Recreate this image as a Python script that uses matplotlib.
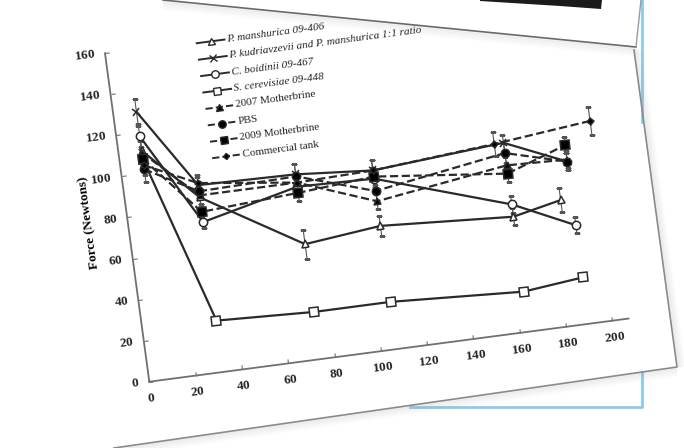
import numpy as np
import matplotlib
matplotlib.use("Agg")
import matplotlib.pyplot as plt
from matplotlib.transforms import Affine2D
from matplotlib.lines import Line2D
from matplotlib.patches import Polygon
from matplotlib.markers import MarkerStyle
import mpl_toolkits.axisartist.floating_axes as floating_axes
from mpl_toolkits.axisartist.grid_finder import FixedLocator

# sampling days
days = [10, 32, 74, 107, 164, 190]
days_mansh = [10, 32, 74, 107, 164, 185]
days_tank = [10, 32, 74, 107, 160, 202]

# force (Newtons) and error bars
mansh = [111, 85, 56, 60, 56, 61]
mansh_err = [6, 4, 7, 5, 4, 6]
kudr = [130, 91, 90, 87, 92, 79]
kudr_err = [6, 4, 5, 5, 4, 4]
boid = [118, 73, 84, 83, 62, 48]
boid_err = [5, 3, 4, 4, 4, 4]
cerev = [107, 25, 23, 23, 19.5, 22.6]
cerev_err = [5, 1, 1, 1, 1, 1]
mb2007 = [110, 86, 86, 72, 81, 80]
mb2007_err = [6, 4, 4, 4, 4, 4]
pbs = [102, 88, 89, 77, 87, 79]
pbs_err = [6, 4, 6, 5, 5, 4]
mb2009 = [107, 78, 81, 84, 77, 87]
mb2009_err = [5, 4, 4, 4, 4, 4]
tank = [104, 92, 86, 87, 92, 97]
tank_err = [5, 4, 4, 5, 6, 7]

labels = ["P. manshurica 09-406",
          "P. kudriavzevii and P. manshurica 1:1 ratio",
          "C. boidinii 09-467",
          "S. cerevisiae 09-448",
          "2007 Motherbrine", "PBS", "2009 Motherbrine", "Commercial tank"]

W, H = 684, 448
fig = plt.figure(figsize=(6.84, 4.48), dpi=100)
fig.patch.set_facecolor("white")

# the chart is a tilted photo: data units -> pixels (rotated ~7.5 deg)
ang = 7.5
tr = Affine2D(np.array([[2.315, -0.277, 0], [0.305, 2.053, 0], [0, 0, 1]]))
ox, oy = 149.3, H - 381.7
xmax, ymax = 207, 160

gh = floating_axes.GridHelperCurveLinear(
    tr, extremes=(0, xmax, 0, ymax),
    grid_locator1=FixedLocator(list(range(0, 201, 20))),
    grid_locator2=FixedLocator(list(range(0, 161, 20))))
ax = fig.add_axes([0.1, 0.1, 0.8, 0.8], axes_class=floating_axes.FloatingAxes,
                  grid_helper=gh)
xl, yl = ax.get_xlim(), ax.get_ylim()
ax.set_position([(ox + xl[0]) / W, (oy + yl[0]) / H,
                 (xl[1] - xl[0]) / W, (yl[1] - yl[0]) / H])
ax.patch.set_visible(False)

for side in ["top", "right"]:
    ax.axis[side].set_visible(False)
for side in ["bottom", "left"]:
    a = ax.axis[side]
    a.line.set_color("#707070")
    a.line.set_linewidth(1.3)
    a.major_ticks.set_color("#707070")
    a.major_ticks.set_ticksize(3)
    a.major_ticklabels.set_fontsize(9.5)
    a.major_ticklabels.set_fontweight("bold")
    a.major_ticklabels.set_fontfamily("Liberation Serif")
    a.major_ticklabels.set_color("#222222")
    a.major_ticklabels.set_pad(7)
lab = ax.axis["left"].label
lab.set_text("Force (Newtons)")
lab.set_fontsize(9.5)
lab.set_fontweight("bold")
lab.set_fontfamily("Liberation Serif")
lab.set_pad(1)
lab.set_visible(True)

aux = ax.get_aux_axes(tr)
aux.patch = ax.patch


def mk(m):
    return MarkerStyle(m, transform=Affine2D().rotate_deg(ang))


series = [
    (days_mansh, mansh, mansh_err, "-", "^", "white", 5.5),
    (days, kudr, kudr_err, "-", "x", "white", 5),
    (days, boid, boid_err, "-", "o", "white", 6),
    (days, cerev, cerev_err, "-", "s", "white", 6),
    (days, mb2007, mb2007_err, "--", "^", "black", 5),
    (days, pbs, pbs_err, "--", "o", "black", 6),
    (days, mb2009, mb2009_err, "--", "s", "black", 6),
    (days_tank, tank, tank_err, "--", "D", "black", 3.5),
]

for xs, ys, es, ls, m, fc, ms in series:
    aux.errorbar(xs, ys, yerr=es, ls="none", ecolor="#555555",
                 elinewidth=0.8, capsize=2.5, capthick=0.8, zorder=2)
    aux.plot(xs, ys, ls=ls, color="#2a2a2a", lw=1.6, marker=mk(m),
             ms=ms, mfc=fc, mec="#2a2a2a", mew=1.1, zorder=3)

# legend drawn in the tilted frame
lx, ly, step = 39.5, 159, 8
for i, ((xs, ys, es, ls, m, fc, ms), name) in enumerate(zip(series, labels)):
    yy = ly - step * i
    aux.plot([lx, lx + 12], [yy, yy], ls=ls, color="#2a2a2a",
             lw=1.4, clip_on=False)
    aux.plot([lx + 6], [yy], ls="none", marker=mk(m), ms=ms * 0.9,
             mfc=fc, mec="#2a2a2a", mew=1.0, clip_on=False)
    aux.text(lx + 13, yy, name, rotation=ang, rotation_mode="anchor",
             ha="left", va="center", fontsize=8,
             family="Liberation Serif",
             style="italic" if i < 4 else "normal", color="#222222")


def px(pts):
    pts = np.asarray(pts, float)
    return pts[:, 0] / W, 1 - pts[:, 1] / H


def edge(pts, **kw):
    x, y = px(pts)
    fig.add_artist(Line2D(x, y, transform=fig.transFigure, **kw))


def soft(pts, dx, dy, n=6):
    # soft drop shadow on one side of an edge
    pts = np.asarray(pts, float)
    for k in range(n, 0, -1):
        edge(pts + [dx * k, dy * k], color="#9a9a9a", lw=1.6,
             alpha=0.12 * (n - k + 1) / n, solid_capstyle="butt")


# blue frame behind the page
edge([(642, 0), (642, 122)], color="#8ec9ee", lw=2)
edge([(642, 372), (642, 407), (410, 407)], color="#8ec9ee", lw=2)

# upper sheet: edge, shadow and the dark photo printed on it
soft([(163, 0), (636, 47)], 0, 1.5)
edge([(163, 0), (636, 47)], color="#6a6a6a", lw=1.2)
edge([(636, 47), (641, 0)], color="#9a9a9a", lw=1.0)
x, y = px([(480, 0), (602, 0), (601, 9), (560, 6), (480, 1)])
fig.add_artist(Polygon(np.c_[x, y], closed=True, transform=fig.transFigure,
                       facecolor="#1c1a1a", edgecolor="none"))

# chart page edges with shadow
soft([(634, 50), (677, 367)], 1.3, 0)
soft([(677, 367), (114, 448)], 0, 1.4)
edge([(634, 50), (677, 367), (114, 448)], color="#8a8a8a", lw=1.2)

fig.savefig("out.png", dpi=100)
